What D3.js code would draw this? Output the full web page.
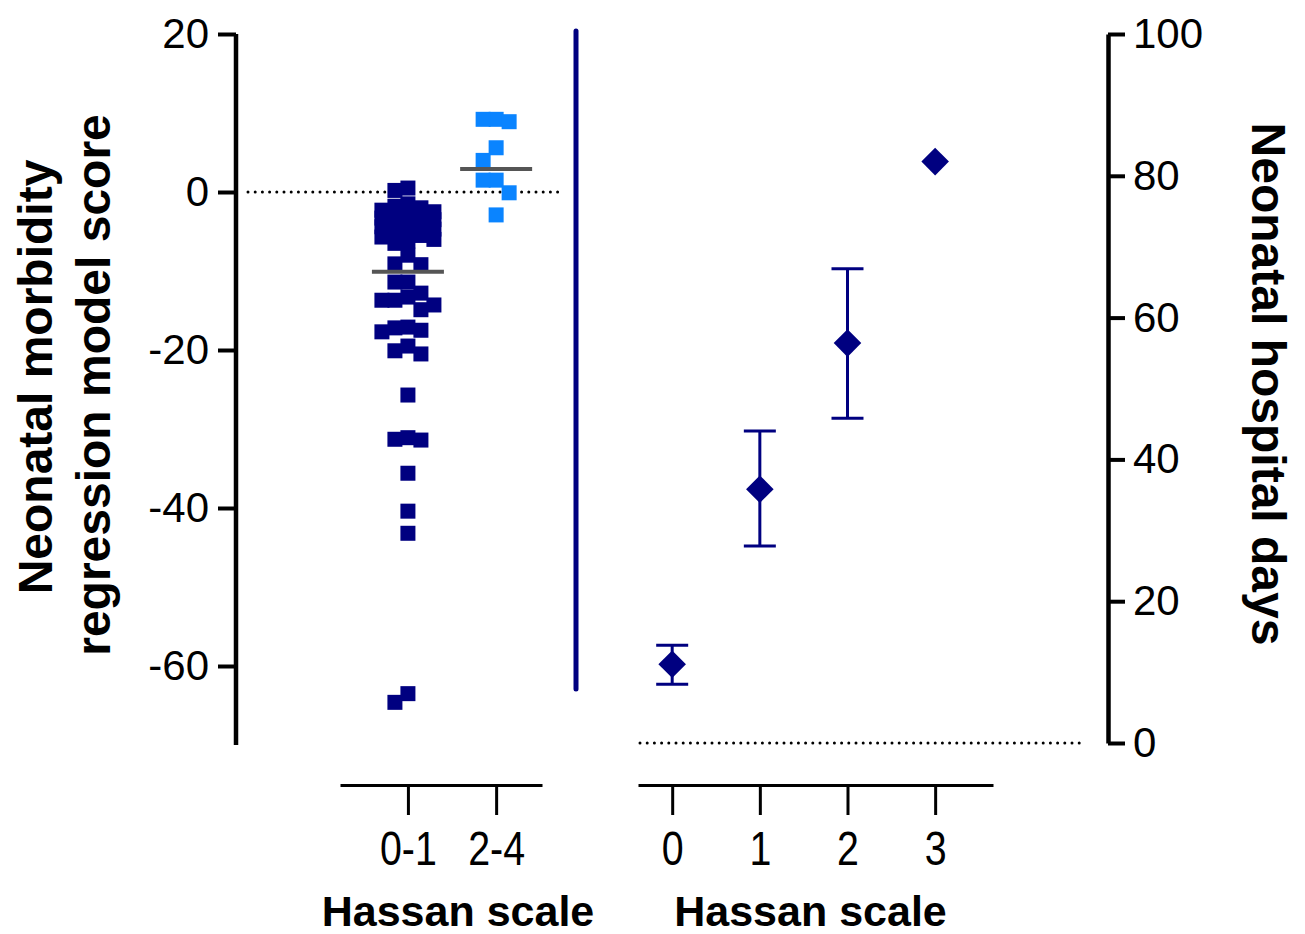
<!DOCTYPE html>
<html>
<head>
<meta charset="utf-8">
<script src="https://cdn.jsdelivr.net/npm/d3@7"></script>
<style>
  body { margin: 0; background: #fff; }
  svg { display: block; font-family: "Liberation Sans", Arial, sans-serif; }
</style>
</head>
<body>
<svg id="chart" width="1305" height="934"></svg>
<script>
// ---- data ----
var groupLabels = ["0-1", "2-4"];
var scoreLow = [0.5, 0.2, -1.5, -1.8, -2.0, -2.3, -2.5, -2.8, -3.0, -3.2, -3.3, -3.5, -3.7,
  -4.0, -4.2, -4.4, -4.7, -5.0, -5.2, -5.5, -5.7, -6.0, -6.2, -6.5, -8.0, -9.2, -9.1,
  -11.4, -11.4, -12.8, -13.3, -13.7, -13.7, -14.3, -14.9, -17.1, -17.7, -17.2, -17.5,
  -19.5, -20.5, -20.1, -25.7, -31.4, -31.1, -31.3, -35.6, -40.4, -43.2, -64.6, -63.5];
var scoreHigh = [9.2, 9.2, 8.9, 5.6, 4.0, 1.5, 1.5, -0.1, -2.9];
var centerLine = [-10.1, 2.9];

var hassanGrade = [0, 1, 2, 3];
var hospDays = [11.1, 35.8, 56.4, 82.0];
var daysLow = [8.3, 27.8, 45.8, null];
var daysHigh = [13.8, 44.0, 66.9, null];

var leftTicks = [20, 0, -20, -40, -60];
var rightTicks = [0, 20, 40, 60, 80, 100];

var navy = "#000080", lightBlue = "#0a84ff";

var svg = d3.select("#chart");

// ---- scales ----
var yL = d3.scaleLinear().domain([-70, 20]).range([745, 34]);
var yR = d3.scaleLinear().domain([0, 100]).range([743, 34]);
var xL = d3.scaleLinear().domain([-0.77, 1.52]).range([340, 542]);
var xR = d3.scaleLinear().domain([-0.39, 3.66]).range([638, 993]);

// ---- left y axis ----
var gyL = svg.append("g")
  .attr("transform", "translate(236,0)")
  .call(d3.axisLeft(yL).tickValues(leftTicks).tickSize(18).tickSizeOuter(0).tickPadding(9));
gyL.select(".domain").attr("stroke-width", 4.5).attr("d", "M0," + yL(-70) + "V" + yL(20));
gyL.selectAll(".tick line").attr("stroke-width", 4);
gyL.selectAll(".tick text").attr("font-size", 42).attr("fill", "#000")
  .text(function (d) { return d < 0 ? "-" + (-d) : d; });

// ---- right y axis ----
var gyR = svg.append("g")
  .attr("transform", "translate(1108,0)")
  .call(d3.axisRight(yR).tickValues(rightTicks).tickSize(17).tickSizeOuter(0).tickPadding(8));
gyR.select(".domain").attr("stroke-width", 4.5);
gyR.selectAll(".tick line").attr("stroke-width", 4);
gyR.selectAll(".tick text").attr("font-size", 42).attr("fill", "#000");

// ---- bottom axes ----
function styleBottom(g) {
  g.select(".domain").attr("stroke-width", 3);
  g.selectAll(".tick line").attr("stroke-width", 3);
  g.selectAll(".tick text")
    .attr("font-size", 48).attr("fill", "#000").attr("dy", null).attr("y", 0)
    .attr("transform", "translate(0,80) scale(0.82,1)");
}

var gxL = svg.append("g")
  .attr("transform", "translate(0,785)")
  .call(d3.axisBottom(xL).tickValues([0, 1]).tickSize(30).tickSizeOuter(0)
    .tickFormat(function (d) { return groupLabels[d]; }));
styleBottom(gxL);

var gxR = svg.append("g")
  .attr("transform", "translate(0,785)")
  .call(d3.axisBottom(xR).tickValues(hassanGrade).tickSize(30).tickSizeOuter(0)
    .tickFormat(d3.format("d")));
styleBottom(gxR);

// ---- axis titles ----
svg.append("text").attr("x", (340 + 542) / 2 + 17).attr("y", 926)
  .attr("text-anchor", "middle").attr("font-size", 43).attr("font-weight", "bold")
  .text("Hassan scale");
svg.append("text").attr("x", (638 + 993) / 2 - 5).attr("y", 926)
  .attr("text-anchor", "middle").attr("font-size", 43).attr("font-weight", "bold")
  .text("Hassan scale");

svg.append("text").attr("transform", "translate(52,377) rotate(-90)")
  .attr("text-anchor", "middle").attr("font-size", 48).attr("font-weight", "bold")
  .text("Neonatal morbidity");
svg.append("text").attr("transform", "translate(110,385) rotate(-90)")
  .attr("text-anchor", "middle").attr("font-size", 48).attr("font-weight", "bold")
  .text("regression model score");
svg.append("text").attr("transform", "translate(1252,384) rotate(90)")
  .attr("text-anchor", "middle").attr("font-size", 48).attr("font-weight", "bold")
  .text("Neonatal hospital days");

// ---- dotted reference lines ----
svg.append("line").attr("x1", 248).attr("x2", 562).attr("y1", yL(0)).attr("y2", yL(0))
  .attr("stroke", "#000").attr("stroke-width", 3).attr("stroke-linecap", "round")
  .attr("stroke-dasharray", "0,7.2");
svg.append("line").attr("x1", 640).attr("x2", 1085).attr("y1", yR(0)).attr("y2", yR(0))
  .attr("stroke", "#000").attr("stroke-width", 3).attr("stroke-linecap", "round")
  .attr("stroke-dasharray", "0,7.2");

// ---- separator ----
svg.append("line").attr("x1", 576).attr("x2", 576).attr("y1", 31).attr("y2", 689)
  .attr("stroke", navy).attr("stroke-width", 5).attr("stroke-linecap", "round");

// ---- scatter: simple column swarm ----
function swarm(values, cx) {
  var step = 13, minGap = 14;
  var placed = [];
  var sorted = values.slice().sort(function (a, b) { return b - a; });
  sorted.forEach(function (v) {
    var py = yL(v);
    var cands = [0, -1, 1, -2, 2];
    var best = null, bestDist = -1;
    for (var i = 0; i < cands.length; i++) {
      var col = cands[i];
      var near = Infinity;
      placed.forEach(function (p) {
        if (p.col === col) near = Math.min(near, Math.abs(p.y - py));
      });
      if (near >= minGap) { best = col; break; }
      if (near > bestDist) { bestDist = near; best = col; }
    }
    placed.push({ v: v, y: py, col: best, x: cx + best * step });
  });
  return placed;
}

var sq = 15;
[scoreLow, scoreHigh].forEach(function (vals, gi) {
  var pts = swarm(vals, xL(gi));
  svg.append("g").selectAll("rect").data(pts).enter().append("rect")
    .attr("x", function (d) { return d.x - sq / 2; })
    .attr("y", function (d) { return d.y - sq / 2; })
    .attr("width", sq).attr("height", sq)
    .attr("fill", gi === 0 ? navy : lightBlue);
});

svg.append("g").selectAll("line").data(centerLine).enter().append("line")
  .attr("x1", function (d, i) { return xL(i) - 36; })
  .attr("x2", function (d, i) { return xL(i) + 36; })
  .attr("y1", function (d) { return yL(d); })
  .attr("y2", function (d) { return yL(d); })
  .attr("stroke", "#555").attr("stroke-width", 4);

// ---- right panel: mean with error bars ----
var rows = hassanGrade.map(function (g, i) {
  return { g: g, v: hospDays[i], lo: daysLow[i], hi: daysHigh[i] };
});
var eb = svg.append("g").attr("stroke", navy).attr("stroke-width", 3);
rows.filter(function (d) { return d.lo !== null; }).forEach(function (d) {
  var x = xR(d.g);
  eb.append("line").attr("x1", x).attr("x2", x).attr("y1", yR(d.lo)).attr("y2", yR(d.hi));
  eb.append("line").attr("x1", x - 16).attr("x2", x + 16).attr("y1", yR(d.lo)).attr("y2", yR(d.lo));
  eb.append("line").attr("x1", x - 16).attr("x2", x + 16).attr("y1", yR(d.hi)).attr("y2", yR(d.hi));
});

svg.append("g").selectAll("path").data(rows).enter().append("path")
  .attr("d", d3.symbol().type(d3.symbolSquare).size(380))
  .attr("transform", function (d) { return "translate(" + xR(d.g) + "," + yR(d.v) + ") rotate(45)"; })
  .attr("fill", navy);
</script>
</body>
</html>
